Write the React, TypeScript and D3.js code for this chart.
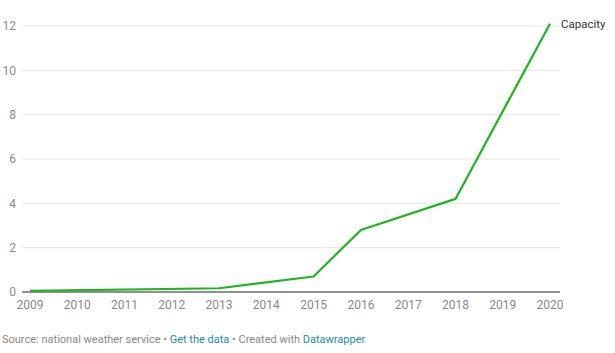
import React from "react";
import * as d3 from "d3";

const years = [2009, 2013, 2015, 2016, 2018, 2020];
const capacity = [0.05, 0.17, 0.7, 2.8, 4.2, 12.1];
const xTicks = [2009, 2010, 2011, 2012, 2013, 2014, 2015, 2016, 2017, 2018, 2019, 2020];
const yTicks = [0, 2, 4, 6, 8, 10, 12];
const seriesName = "Capacity";

export default function App() {
  const W = 615, H = 353;
  const x = d3.scaleLinear().domain([2009, 2020]).range([30, 550]);
  const y = d3.scaleLinear().domain([0, 12]).range([292, 26]);
  const line = d3.line<number>().x((_, i) => x(years[i])).y((d) => y(d));
  const font = "Roboto, sans-serif";
  return (
    <svg width={W} height={H} style={{ position: "absolute", left: 0, top: 0, background: "#fff" }} fontFamily={font}>
      {yTicks.map((t) => (
        <g key={t}>
          {t !== 0 && <line x1={22} x2={560} y1={y(t)} y2={y(t)} stroke="#e5e5e5" strokeWidth={1} />}
          <text x={16} y={y(t)} dy="0.35em" textAnchor="end" fontSize={12} fill="#888">{t}</text>
        </g>
      ))}
      <line x1={22} x2={560} y1={y(0)} y2={y(0)} stroke="#222" strokeWidth={1.2} />
      {xTicks.map((t) => (
        <text key={t} x={x(t)} y={309} textAnchor="middle" fontSize={12} fill="#888">{t}</text>
      ))}
      <path d={line(capacity) || ""} fill="none" stroke="#1fb51f" strokeWidth={2.2} strokeLinejoin="round" />
      <text x={561} y={y(capacity[capacity.length - 1])} dy="0.35em" fontSize={11.5} fill="#333">{seriesName}</text>
      <text x={2} y={343} fontSize={11} fill="#888">
        Source: national weather service •{" "}
        <tspan fill="#1d8aa8">Get the data</tspan> • Created with{" "}
        <tspan fill="#1d8aa8">Datawrapper</tspan>
      </text>
    </svg>
  );
}
